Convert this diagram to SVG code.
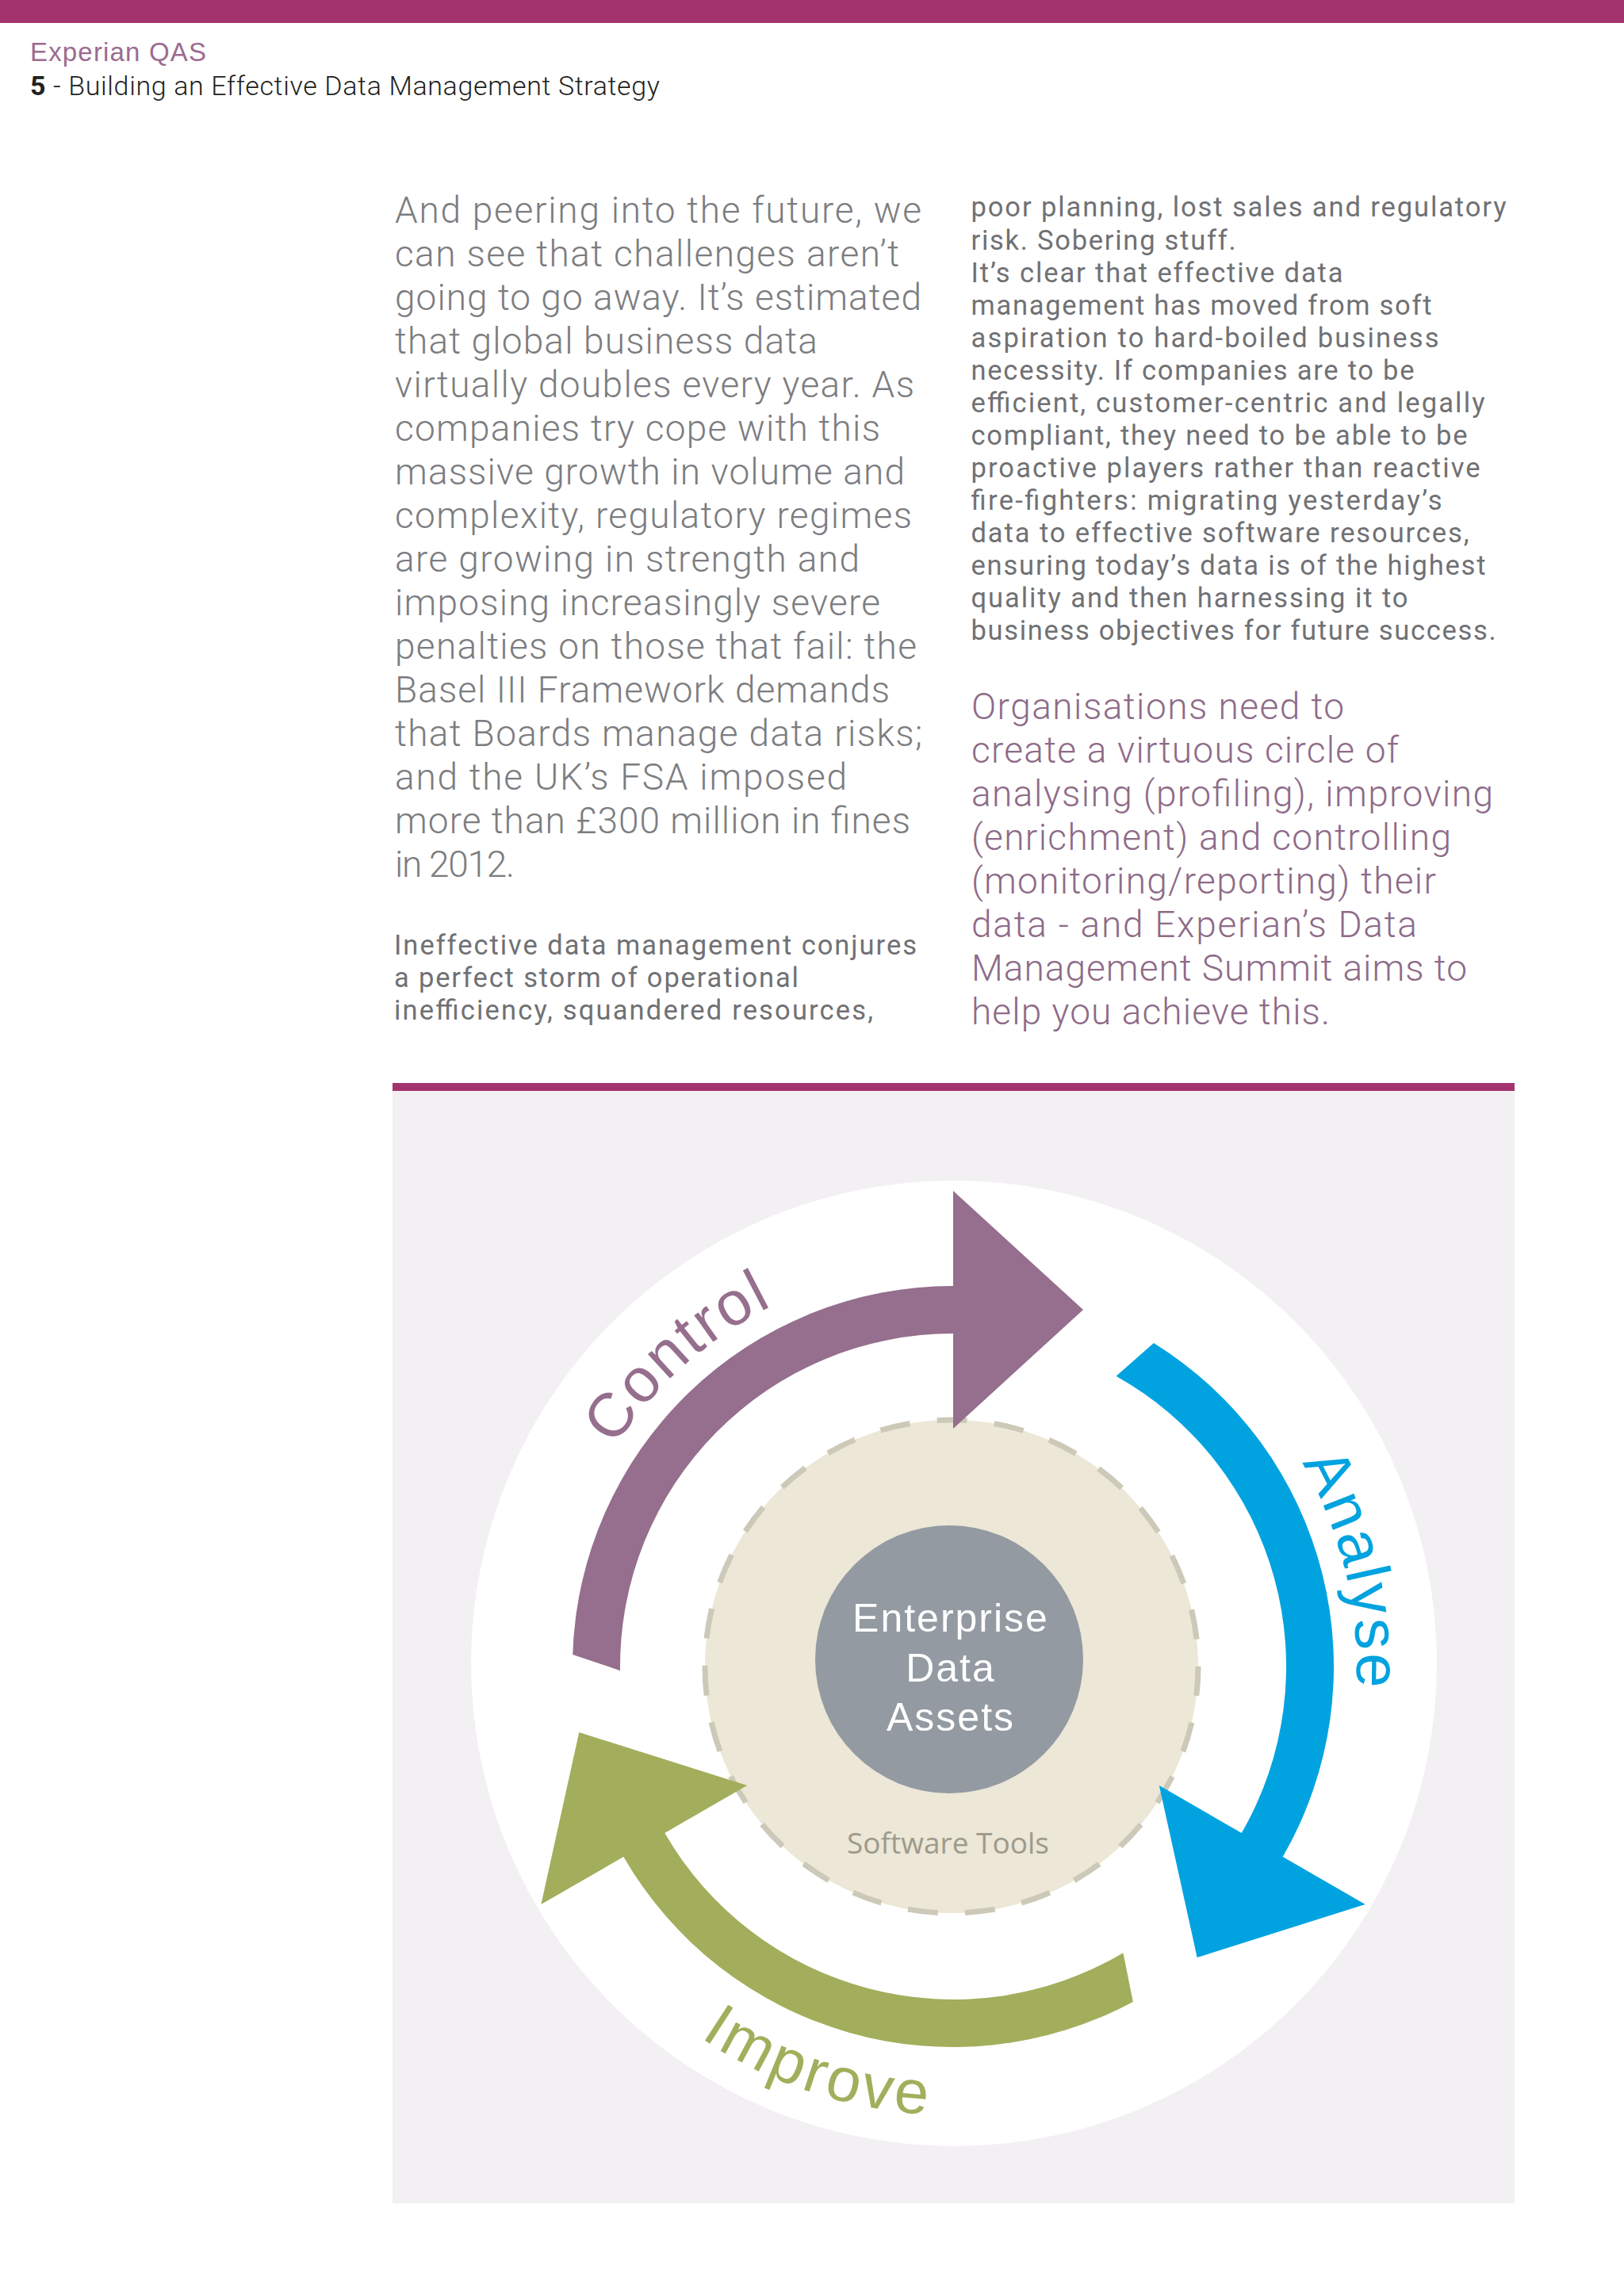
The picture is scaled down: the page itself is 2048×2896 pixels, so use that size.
<svg xmlns="http://www.w3.org/2000/svg" xmlns:xlink="http://www.w3.org/1999/xlink" width="2048" height="2896" viewBox="0 0 2048 2896">
<style>
.hd1{font-family:"Liberation Sans",Arial,sans-serif;font-size:33px;fill:#9c6b8f}
.hd2{font-family:Roboto,"Liberation Sans",sans-serif;font-weight:300;font-size:34px;fill:#231f20}
.big{font-family:Roboto,"Liberation Sans",sans-serif;font-weight:300;font-size:46px;fill:#7c7d80}
.bigp{font-family:Roboto,"Liberation Sans",sans-serif;font-weight:300;font-size:46px;fill:#8e6b88}
.sm{font-family:Roboto,"Liberation Sans",sans-serif;font-weight:400;font-size:34.5px;fill:#707174}
.lbl{font-family:"Liberation Sans",Arial,sans-serif;font-size:78px}
.core{font-family:"Liberation Sans",Arial,sans-serif;font-size:50px;fill:#ffffff;letter-spacing:2px;text-anchor:middle}
.tools{font-family:"Open Sans","Noto Sans",sans-serif;font-size:37px;fill:#9d9a8d}
</style>
<defs>
<path id="arrow-shape" d="M -479.76 -15.08 A 480 480 0 0 1 0 -480 L 0 -600 L 164 -450 L 0 -300 L 0 -420 A 420 420 0 0 0 -419.97 5.13 Z"/>
<path id="p-control" d="M 775.12 1824.78 A 509 509 0 0 1 1113.61 1600.73"/>
<path id="p-analyse" d="M 1641.47 1845.19 A 509 509 0 0 1 1680.30 2276.09"/>
<path id="p-improve" d="M 883.04 2569.57 A 566 566 0 0 0 1300.28 2659.40"/>
</defs>
<rect x="0" y="0" width="2048" height="2896" fill="#ffffff"/>
<g id="header">
<rect x="0" y="0" width="2048" height="29" fill="#a3336f"/>
<text class="hd1" x="38" y="77" textLength="222">Experian QAS</text>
<text class="hd2" x="38" y="120" textLength="794"><tspan font-weight="bold">5</tspan> - Building an Effective Data Management Strategy</text>
</g>
<g id="column-1">
<text class="big" x="498" y="281" textLength="664">And peering into the future, we</text>
<text class="big" x="498" y="336" textLength="636">can see that challenges aren’t</text>
<text class="big" x="498" y="391" textLength="664">going to go away. It’s estimated</text>
<text class="big" x="498" y="446" textLength="533">that global business data</text>
<text class="big" x="498" y="501" textLength="655">virtually doubles every year. As</text>
<text class="big" x="498" y="556" textLength="612">companies try cope with this</text>
<text class="big" x="498" y="611" textLength="643">massive growth in volume and</text>
<text class="big" x="498" y="666" textLength="652">complexity, regulatory regimes</text>
<text class="big" x="498" y="721" textLength="586">are growing in strength and</text>
<text class="big" x="498" y="776" textLength="612">imposing increasingly severe</text>
<text class="big" x="498" y="831" textLength="658">penalties on those that fail: the</text>
<text class="big" x="498" y="886" textLength="624">Basel III Framework demands</text>
<text class="big" x="498" y="941" textLength="665">that Boards manage data risks;</text>
<text class="big" x="498" y="996" textLength="570">and the UK’s FSA imposed</text>
<text class="big" x="498" y="1051" textLength="650">more than £300 million in fines</text>
<text class="big" x="498" y="1106" textLength="151">in 2012.</text>
<text class="sm" x="497" y="1203.5" textLength="659">Ineffective data management conjures</text>
<text class="sm" x="497" y="1244.5" textLength="510">a perfect storm of operational</text>
<text class="sm" x="497" y="1285.5" textLength="604">inefficiency, squandered resources,</text>
</g>
<g id="column-2">
<text class="sm" x="1224.5" y="273.4" textLength="675">poor planning, lost sales and regulatory</text>
<text class="sm" x="1224.5" y="314.5" textLength="334">risk. Sobering stuff.</text>
<text class="sm" x="1224.5" y="355.5" textLength="469">It’s clear that effective data</text>
<text class="sm" x="1224.5" y="396.6" textLength="581">management has moved from soft</text>
<text class="sm" x="1224.5" y="437.6" textLength="590">aspiration to hard-boiled business</text>
<text class="sm" x="1224.5" y="478.7" textLength="559">necessity. If companies are to be</text>
<text class="sm" x="1224.5" y="519.8" textLength="648">efficient, customer-centric and legally</text>
<text class="sm" x="1224.5" y="560.8" textLength="626">compliant, they need to be able to be</text>
<text class="sm" x="1224.5" y="601.9" textLength="642">proactive players rather than reactive</text>
<text class="sm" x="1224.5" y="642.9" textLength="594">fire-fighters: migrating yesterday’s</text>
<text class="sm" x="1224.5" y="684.0" textLength="628">data to effective software resources,</text>
<text class="sm" x="1224.5" y="725.1" textLength="649">ensuring today’s data is of the highest</text>
<text class="sm" x="1224.5" y="766.1" textLength="551">quality and then harnessing it to</text>
<text class="sm" x="1224.5" y="807.2" textLength="662">business objectives for future success.</text>
<text class="bigp" x="1225" y="906.7" textLength="470">Organisations need to</text>
<text class="bigp" x="1225" y="961.7" textLength="539">create a virtuous circle of</text>
<text class="bigp" x="1225" y="1016.7" textLength="658">analysing (profiling), improving</text>
<text class="bigp" x="1225" y="1071.7" textLength="605">(enrichment) and controlling</text>
<text class="bigp" x="1225" y="1126.7" textLength="586">(monitoring/reporting) their</text>
<text class="bigp" x="1225" y="1181.7" textLength="562">data - and Experian’s Data</text>
<text class="bigp" x="1225" y="1236.7" textLength="625">Management Summit aims to</text>
<text class="bigp" x="1225" y="1291.7" textLength="452">help you achieve this.</text>
</g>
<g id="diagram-panel">
<rect x="495" y="1366" width="1415" height="10" fill="#a3336f"/>
<rect x="495" y="1376" width="1415" height="1403" fill="#f2f0f2"/>
<circle cx="1203" cy="2098" r="609" fill="#ffffff"/>
</g>
<g id="node-software-tools">
<circle cx="1200" cy="2102" r="311" fill="#ece7d6" stroke="#cdc9b9" stroke-width="7" stroke-dasharray="38 34.373" stroke-dashoffset="0.92"/>
<text class="tools" x="1068" y="2338" textLength="255">Software Tools</text>
</g>
<g id="node-core">
<circle cx="1197" cy="2093" r="169" fill="#939aa2"/>
<text class="core" x="1199" y="2058">Enterprise</text>
<text class="core" x="1199" y="2121">Data</text>
<text class="core" x="1199" y="2183">Assets</text>
</g>
<g id="connectors">
<use xlink:href="#arrow-shape" href="#arrow-shape" transform="translate(1202 2102)" fill="#956f8d"/>
<use xlink:href="#arrow-shape" href="#arrow-shape" transform="translate(1202 2102) rotate(120)" fill="#00a3df"/>
<use xlink:href="#arrow-shape" href="#arrow-shape" transform="translate(1202 2102) rotate(240)" fill="#a2ae5b"/>
</g>
<g id="node-control">
<text class="lbl" fill="#956f8d" letter-spacing="3"><textPath xlink:href="#p-control" href="#p-control">Control</textPath></text>
</g>
<g id="node-analyse">
<text class="lbl" fill="#00a3df" letter-spacing="3"><textPath xlink:href="#p-analyse" href="#p-analyse">Analyse</textPath></text>
</g>
<g id="node-improve">
<text class="lbl" fill="#a2ae5b" letter-spacing="4"><textPath xlink:href="#p-improve" href="#p-improve">Improve</textPath></text>
</g>
</svg>
